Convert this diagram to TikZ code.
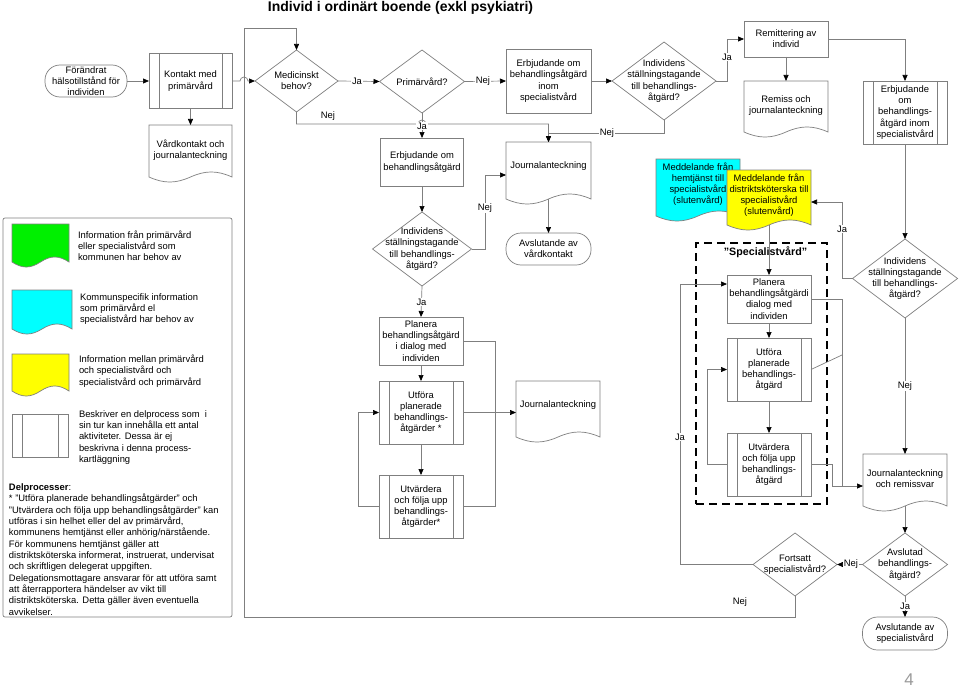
\documentclass[tikz,border=0pt]{standalone}
\usepackage{fontspec}
\setmainfont{Liberation Sans}
\usetikzlibrary{shapes.geometric,arrows.meta,calc}
\definecolor{linegray}{HTML}{7F7F7F}
\definecolor{docgreen}{HTML}{00F000}
\definecolor{doccyan}{HTML}{00FFFF}
\definecolor{docyellow}{HTML}{FFFF00}
\newcommand\fsz{\fontsize{9.4}{11.2}\selectfont}
\newcommand\docpath[2]{%
  \draw[draw=linegray, line width=0.7pt, fill=#2]
    let \p1=(#1.north west), \p2=(#1.south east), \n1={\x2-\x1} in
    (\x1,\y1) -- (\x2,\y1) -- (\x2,\y2)
    .. controls ({\x2-0.18*\n1},{\y2+6.7pt}) and ({\x2-0.32*\n1},{\y2+6.7pt}) .. ({\x2-0.5*\n1},\y2)
    .. controls ({\x2-0.68*\n1},{\y2-6.7pt}) and ({\x2-0.82*\n1},{\y2-6.7pt}) .. (\x1,\y2) -- cycle;}
\begin{document}
\begin{tikzpicture}[x=1pt,y=-1pt,
  nb/.style={inner sep=0pt, outer sep=0pt, font=\fsz, align=center},
  sz/.style 2 args={minimum width=#1pt, minimum height=#2pt},
  proc/.style={nb, draw=linegray, line width=0.7pt, fill=white, rectangle},
  subproc/.style={proc, path picture={\draw[linegray, line width=0.7pt]
      ([xshift=10pt]path picture bounding box.north west) -- ([xshift=10pt]path picture bounding box.south west)
      ([xshift=-10pt]path picture bounding box.north east) -- ([xshift=-10pt]path picture bounding box.south east);}},
  term/.style={proc, rounded corners=15pt},
  dec/.style={nb, draw=linegray, line width=0.7pt, fill=white, diamond},
  docbase/.style={nb, rectangle},
  legtxt/.style={nb, align=left, anchor=west},
  conn/.style={draw=linegray, line width=0.7pt},
  arr/.style={conn, -{Triangle[length=6pt,width=5pt,color=black]}},
  lbl/.style={nb, fill=white, inner sep=1pt},
]
\useasboundingbox (0,0) rectangle (960,690);

% title
\node[font=\bfseries\fontsize{14}{16}\selectfont, anchor=base] (title) at (400.5,11.5) {Individ i ordinärt boende (exkl psykiatri)};

% legend
\node[draw=linegray, line width=0.7pt, rounded corners=2pt, minimum width=229pt, minimum height=399pt, inner sep=0pt] (legend) at (117.5,417.5) {};
\node[docbase, sz={57}{38}] (lgreen) at (40.5,243) {};
\docpath{lgreen}{docgreen}
\node[docbase, sz={60}{39}] (lcyan) at (42,309.5) {};
\docpath{lcyan}{doccyan}
\node[docbase, sz={57}{37}] (lyellow) at (40.5,372.5) {};
\docpath{lyellow}{docyellow}
\node[subproc, sz={56}{43}] (lsub) at (40,435.5) {};
\node[legtxt] (lgreen-t) at (78,246) {Information från primärvård\\eller specialistvård som\\kommunen har behov av};
\node[legtxt] (lcyan-t) at (80,309) {Kommunspecifik information\\som primärvård el\\specialistvård har behov av};
\node[legtxt] (lyellow-t) at (79,371) {Information mellan primärvård\\och specialistvård och\\specialistvård och primärvård};
\node[legtxt, font=\fontsize{9.4}{11.25}\selectfont] (lsub-t) at (79,437.5) {Beskriver en delprocess som~~i\\sin tur kan innehålla ett antal\\aktiviteter. Dessa är ej\\beskrivna i denna process-\\kartläggning};
\node[legtxt, font=\fontsize{9.4}{11.35}\selectfont] (delp) at (9,549.5) {\textbf{Delprocesser}:\\
* "Utföra planerade behandlingsåtgärder" och\\
"Utvärdera och följa upp behandlingsåtgärder" kan\\
utföras i sin helhet eller del av primärvård,\\
kommunens hemtjänst eller anhörig/närstående.\\
För kommunens hemtjänst gäller att\\
distriktsköterska informerat, instruerat, undervisat\\
och skriftligen delegerat uppgiften.\\
Delegationsmottagare ansvarar för att utföra samt\\
att återrapportera händelser av vikt till\\
distriktsköterska. Detta gäller även eventuella\\
avvikelser.};

% dashed specialistvard frame
\node[draw=black, line width=1.4pt, dash pattern=on 8pt off 5pt, minimum width=131pt, minimum height=261pt, inner sep=0pt] (spec) at (761.5,373.5) {};
\node[font=\bfseries\fontsize{10.7}{12}\selectfont] (spec-t) at (765.5,252) {"Specialistvård"};

% top row
\node[term, sz={82}{32}] (start) at (86,81) {Förändrat\\hälsotillstånd för\\individen};
\node[subproc, sz={83}{55}] (kontakt) at (190.5,81) {Kontakt med\\primärvård};
\node[docbase, sz={83}{52}] (vard) at (190.5,151) {};
\docpath{vard}{white}
\node[nb] (vard-t) at (190.5,150) {Vårdkontakt och\\journalanteckning};

\node[dec, sz={83}{62}] (med) at (296.5,81) {};
\node[nb] (med-t) at (296.5,81) {Medicinskt\\behov?};
\node[dec, sz={85}{63}] (prim) at (422,81.5) {};
\node[nb] (prim-t) at (422,81.5) {Primärvård?};
\node[proc, sz={85}{64}] (erbsp) at (548.5,81) {Erbjudande om\\behandlingsåtgärd\\inom\\specialistvård};
\node[dec, sz={104}{78}] (ind1) at (664,81) {};
\node[nb] (ind1-t) at (664,81) {Individens\\ställningstagande\\till behandlings-\\åtgärd?};
\node[proc, sz={84}{36}] (remit) at (786,39) {Remittering av\\individ};
\node[docbase, sz={84}{51}] (remiss) at (786,106.5) {};
\docpath{remiss}{white}
\node[nb] (remiss-t) at (786,105.5) {Remiss och\\journalanteckning};
\node[subproc, sz={84}{63}] (erbsub) at (905,112.5) {Erbjudande\\om\\behandlings-\\åtgärd inom\\specialistvård};

% middle column
\node[proc, sz={83}{48}] (erbpv) at (422,162) {Erbjudande om\\behandlingsåtgärd};
\node[docbase, sz={85}{57}] (jour1) at (548.5,170.5) {};
\docpath{jour1}{white}
\node[nb] (jour1-t) at (548.5,166) {Journalanteckning};
\node[term, sz={85}{32}] (avslv) at (548.5,249) {Avslutande av\\vårdkontakt};
\node[dec, sz={99}{74}] (ind2) at (422,249) {};
\node[nb] (ind2-t) at (422,249) {Individens\\ställningstagande\\till behandlings-\\åtgärd?};
\node[proc, sz={84}{48}] (plan1) at (421,341) {Planera\\behandlingsåtgärd\\i dialog med\\individen};
\node[subproc, sz={84}{63}] (utf1) at (421,412.5) {Utföra\\planerade\\behandlings-\\åtgärder *};
\node[subproc, sz={84}{63}] (utv1) at (421,506.5) {Utvärdera\\och följa upp\\behandlings-\\åtgärder*};
\node[docbase, sz={84}{56}] (jour2) at (558,409) {};
\docpath{jour2}{white}
\node[nb] (jour2-t) at (558,405) {Journalanteckning};

% messages
\node[docbase, sz={84}{57}] (cyan) at (698,187.5) {};
\docpath{cyan}{doccyan}
\node[nb] (cyan-t) at (698,184) {Meddelande från\\hemtjänst till\\specialistvård\\(slutenvård)};
\node[docbase, sz={84}{55}] (yellow) at (769,197.5) {};
\docpath{yellow}{docyellow}
\node[nb] (yellow-t) at (769,195) {Meddelande från\\distriktsköterska till\\specialistvård\\(slutenvård)};

% right part
\node[proc, sz={84}{48}] (plan2) at (769,299) {Planera\\behandlingsåtgärdi\\dialog med\\individen};
\node[subproc, sz={84}{63}] (utf2) at (769,369.5) {Utföra\\planerade\\behandlings-\\åtgärd};
\node[subproc, sz={84}{63}] (utv2) at (769,464.5) {Utvärdera\\och följa upp\\behandlings-\\åtgärd};
\node[dec, sz={105}{79}] (ind3) at (905,278.5) {};
\node[nb] (ind3-t) at (905,278.5) {Individens\\ställningstagande\\till behandlings-\\åtgärd?};
\node[docbase, sz={84}{52}] (jourrem) at (905,480) {};
\docpath{jourrem}{white}
\node[nb] (jourrem-t) at (905,478.5) {Journalanteckning\\och remissvar};
\node[dec, sz={85}{63}] (avsl) at (905,564.5) {};
\node[nb] (avsl-t) at (905,564.5) {Avslutad\\behandlings-\\åtgärd?};
\node[dec, sz={84}{63}] (forts) at (795,564.5) {};
\node[nb] (forts-t) at (795,564.5) {Fortsatt\\specialistvård?};
\node[term, sz={85}{33}] (avsls) at (905,633.5) {Avslutande av\\specialistvård};

% coordinates for bends
\coordinate (yj) at (842,202);
\coordinate (fj) at (680,284);
\coordinate (nj1) at (664,133);
\coordinate (nj2) at (485,175);
\coordinate (rj) at (842,486);
\coordinate (dj) at (842,355);

% connectors
\draw[arr] (start) -- (kontakt);
\draw[arr] (kontakt.south) -- (vard.north);
\draw[arr] (kontakt.east) -- (240,81) arc[start angle=180,end angle=360,radius=4] -- (med.west);
\draw[arr] (med.east) -- (prim.west);
\draw[arr] (prim.east) -- (erbsp.west);
\draw[arr] (erbsp.east) -- (ind1.west);
\draw[arr] (ind1.east) -- (727,81) |- (remit.west);
\draw[arr] (remit.south) -- (remiss.north);
\draw[arr] (remit.east) -| (erbsub.north);
\draw[arr] (erbsub.south) -- (ind3.north);
\draw[arr] (ind3.west) -| (yj) -- (yellow.east |- yj);
\draw[arr] (ind3.south) -- (jourrem.north);
\draw[arr] (jourrem.south) -- (avsl.north);
\draw[arr] (avsl.west) -- (forts.east);
\draw[arr] (avsl.south) -- (avsls.north);
\draw[arr] (forts.west) -| (fj) -- (plan2.west |- fj);
\draw[arr] (forts.south) |- (244,617) |- (296.5,28) -- (med.north);
\draw[arr] (med.south) |- (418,124) arc[start angle=180,end angle=360,radius=4] -| (jour1.north);
\draw[arr] (prim.south) -- (erbpv.north);
\draw[arr] (ind1.south) |- (jour1.north |- nj1) -- (jour1.north);
\draw[arr] (erbpv.south) -- (ind2.north);
\draw[arr] (ind2.east) -| (nj2) -- (jour1.west |- nj2);
\draw[arr] (jour1.south) -- (avslv.north);
\draw[arr] (ind2.south) -- (plan1.north);
\draw[arr] (plan1.south) -- (utf1.north);
\draw[arr] (utf1.south) -- (utv1.north);
\draw[arr] (utv1.west) -- ++(-21,0) |- (utf1.west);
\draw[conn] (plan1.east) -- ++(32,0) |- (utv1.east);
\draw[arr] (utf1.east) -- (utf1.east -| jour2.west);
\draw[arr] (yellow.south) -- (plan2.north);
\draw[arr] (plan2.south) -- (utf2.north);
\draw[arr] (utf2.south) -- (utv2.north);
\draw[arr] (utv2.west) -- ++(-20,0) |- (utf2.west);
\draw[arr] (plan2.east) -| (rj) -- (jourrem.west |- rj);
\draw[conn] (utv2.east) -| (832,486) -- (rj);
\draw[conn] (utf2.east) -- (dj);

% labels
\node[nb] (lnej1) at (328,116) {Nej};
\node[lbl] (lja1) at (357,81) {Ja};
\node[lbl] (lnej2) at (483,81) {Nej};
\node[lbl] (lja2) at (422,126) {Ja};
\node[lbl] (lnej3) at (607,133) {Nej};
\node[lbl] (lja3) at (727,57) {Ja};
\node[lbl] (lnej4) at (485,208) {Nej};
\node[lbl] (lja4) at (421.5,302) {Ja};
\node[lbl] (lja5) at (842,229) {Ja};
\node[lbl] (lnej5) at (905,386) {Nej};
\node[lbl] (lja6) at (680,437) {Ja};
\node[lbl] (lnej6) at (851,564.5) {Nej};
\node[lbl, inner sep=0.5pt] (lja7) at (905,606) {Ja};
\node[nb] (lnej7) at (740,602) {Nej};

% page number
\node[font=\fontsize{17}{19}\selectfont, text=black!40] (pnum) at (909,680) {4};
\end{tikzpicture}
\end{document}
